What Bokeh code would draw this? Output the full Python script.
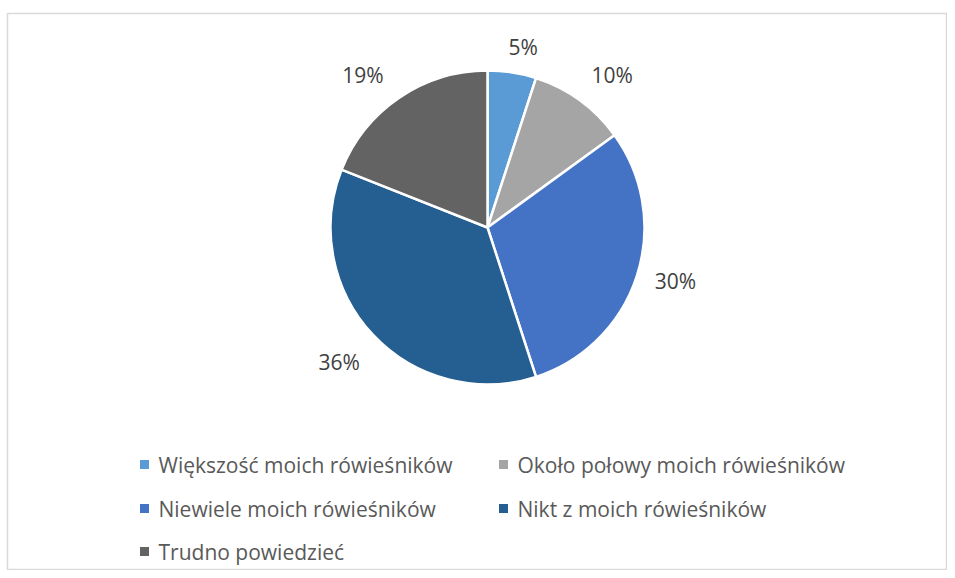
import math
from bokeh.plotting import figure
from bokeh.models import Range1d, ColumnDataSource
from bokeh.core.properties import value
from bokeh.embed import file_html
from bokeh.resources import INLINE

categories = ["Większość moich rówieśników", "Około połowy moich rówieśników",
              "Niewiele moich rówieśników", "Nikt z moich rówieśników", "Trudno powiedzieć"]
values = [5, 10, 30, 36, 19]
labels = ["5%", "10%", "30%", "36%", "19%"]
colors = ["#5b9bd5", "#a5a5a5", "#4472c4", "#255e91", "#636363"]

W, H = 947, 570
LEFT, TOP = 7, 13
FW, FH = W - LEFT, H - TOP

p = figure(width=W, height=H, output_backend="svg", toolbar_location=None,
           x_range=Range1d(0, FW), y_range=Range1d(0, FH),
           min_border_left=LEFT, min_border_right=0, min_border_bottom=0, min_border_top=TOP)
p.axis.visible = False
p.grid.visible = False
p.outline_line_color = "#d9d9d9"
p.outline_line_width = 1.5
p.background_fill_color = "white"
p.border_fill_color = "white"

def sx(x):
    return x - LEFT
def sy(y):
    return H - y

cx, cy, r = sx(487), sy(227), 157
total = sum(values)
starts, ends, mids = [], [], []
cum = 0.0
for v in values:
    a0 = math.pi / 2 - 2 * math.pi * cum / total
    cum += v
    a1 = math.pi / 2 - 2 * math.pi * cum / total
    starts.append(a0)
    ends.append(a1)
    mids.append((a0 + a1) / 2)

src = ColumnDataSource(dict(start=starts, end=ends, color=colors))
p.wedge(x=cx, y=cy, radius=r, start_angle="start", end_angle="end", direction="clock",
        fill_color="color", line_color="white", line_width=2.5, source=src)

# label placement (best-fit style): radial distance and clockwise angle nudge in degrees
lr = [183.5, 197, 195.5, 200.5, 197]
nudge = [2.2, 3.3, -2.0, 0.9, -5.0]
la = [mids[i] - math.radians(nudge[i]) for i in range(5)]
lx = [cx + lr[i] * math.cos(la[i]) for i in range(5)]
ly = [cy + lr[i] * math.sin(la[i]) for i in range(5)]
p.text(x=lx, y=ly, text=labels, text_align="center", text_baseline="middle",
       text_font=value("Open Sans"), text_font_size="21px", text_color="#404040")

# legend
leg_x = [sx(144), sx(503), sx(144), sx(503), sx(144)]
leg_y = [sy(464), sy(464), sy(508), sy(508), sy(551)]
p.rect(x=leg_x, y=leg_y, width=9, height=9, fill_color=colors, line_color=None)
p.text(x=[x + 14 for x in leg_x], y=leg_y, text=categories, text_align="left",
       text_baseline="middle", text_font=value("Open Sans"), text_font_size="21px",
       text_color="#595959")

open("out.html", "w").write(file_html(p, INLINE))
